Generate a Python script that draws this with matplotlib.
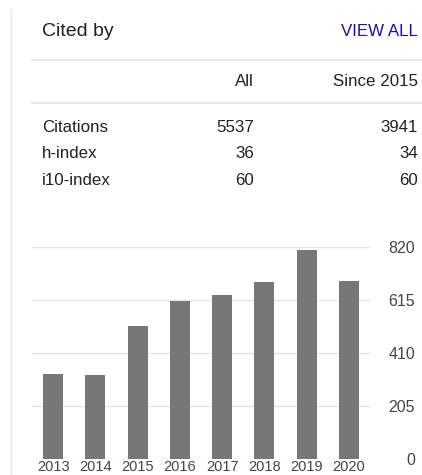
import matplotlib.pyplot as plt
from matplotlib.lines import Line2D

plt.rcParams['font.family'] = ['Liberation Sans', 'DejaVu Sans']

# data read from the widget
row_names = ['Citations', 'h-index', 'i10-index']
all_vals = ['5537', '36', '60']
since_vals = ['3941', '34', '60']
years = ['2013', '2014', '2015', '2016', '2017', '2018', '2019', '2020']
cites = [329, 324, 514, 613, 633, 684, 810, 687]
yticks = [0, 205, 410, 615, 820]

W, H = 422, 475
fig = plt.figure(figsize=(W / 100, H / 100), dpi=100)


def px(x, y):
    # pixel coords -> figure fraction
    return x / W, 1 - y / H


def hline(x0, x1, y, c='#e0e0e0'):
    (a, b), (c2, _) = px(x0, y), px(x1, y)
    fig.add_artist(Line2D([a, c2], [b, b], color=c, lw=1.2, transform=fig.transFigure))


# left border line
fig.add_artist(Line2D([11 / W, 11 / W], [1 - 10 / H, 0], color='#e8e8e8', lw=1,
                      transform=fig.transFigure))

fs = 12.2
fig.text(*px(42, 32), 'Cited by', fontsize=14, color='#222222', va='center')
fig.text(*px(418, 32), 'VIEW ALL', fontsize=fs, color='#1a0dab', va='center', ha='right')
hline(32, 422, 60)
fig.text(*px(254, 81), 'All', fontsize=fs, color='#222222', va='center', ha='right')
fig.text(*px(418, 81), 'Since 2015', fontsize=fs, color='#222222', va='center', ha='right')
hline(32, 422, 103)

for i, name in enumerate(row_names):
    y = 128 + i * 26
    fig.text(*px(42, y), name, fontsize=fs, color='#222222', va='center')
    fig.text(*px(254, y), all_vals[i], fontsize=fs, color='#222222', va='center', ha='right')
    fig.text(*px(418, y), since_vals[i], fontsize=fs, color='#222222', va='center', ha='right')

# chart area: x 32..370, y 0 at 459, 820 at 247
x0, x1 = 32, 370
ytop = 459 - (459 - 247) * 840 / 820
ax = fig.add_axes([x0 / W, 1 - 459 / H, (x1 - x0) / W, (459 - ytop) / H])
pos = list(range(len(years)))
ax.bar(pos, cites, width=0.47, color='#777777', zorder=3)
ax.set_xlim(-0.5, len(years) - 0.5)
ax.set_ylim(0, 840)
for t in yticks:
    ax.axhline(t, color='#e6e6e6', lw=1, zorder=1)
for s in ax.spines.values():
    s.set_visible(False)
ax.set_xticks(pos)
ax.set_xticklabels(years, fontsize=10.5, color='#444444')
ax.tick_params(axis='x', length=0, pad=1)
ax.yaxis.tick_right()
ax.set_yticks(yticks)
ax.set_yticklabels([str(t) for t in yticks], fontsize=11.5, color='#444444', ha='right')
ax.tick_params(axis='y', length=0, pad=32.4)
ax.patch.set_alpha(0)

fig.savefig('out.png', dpi=100)
